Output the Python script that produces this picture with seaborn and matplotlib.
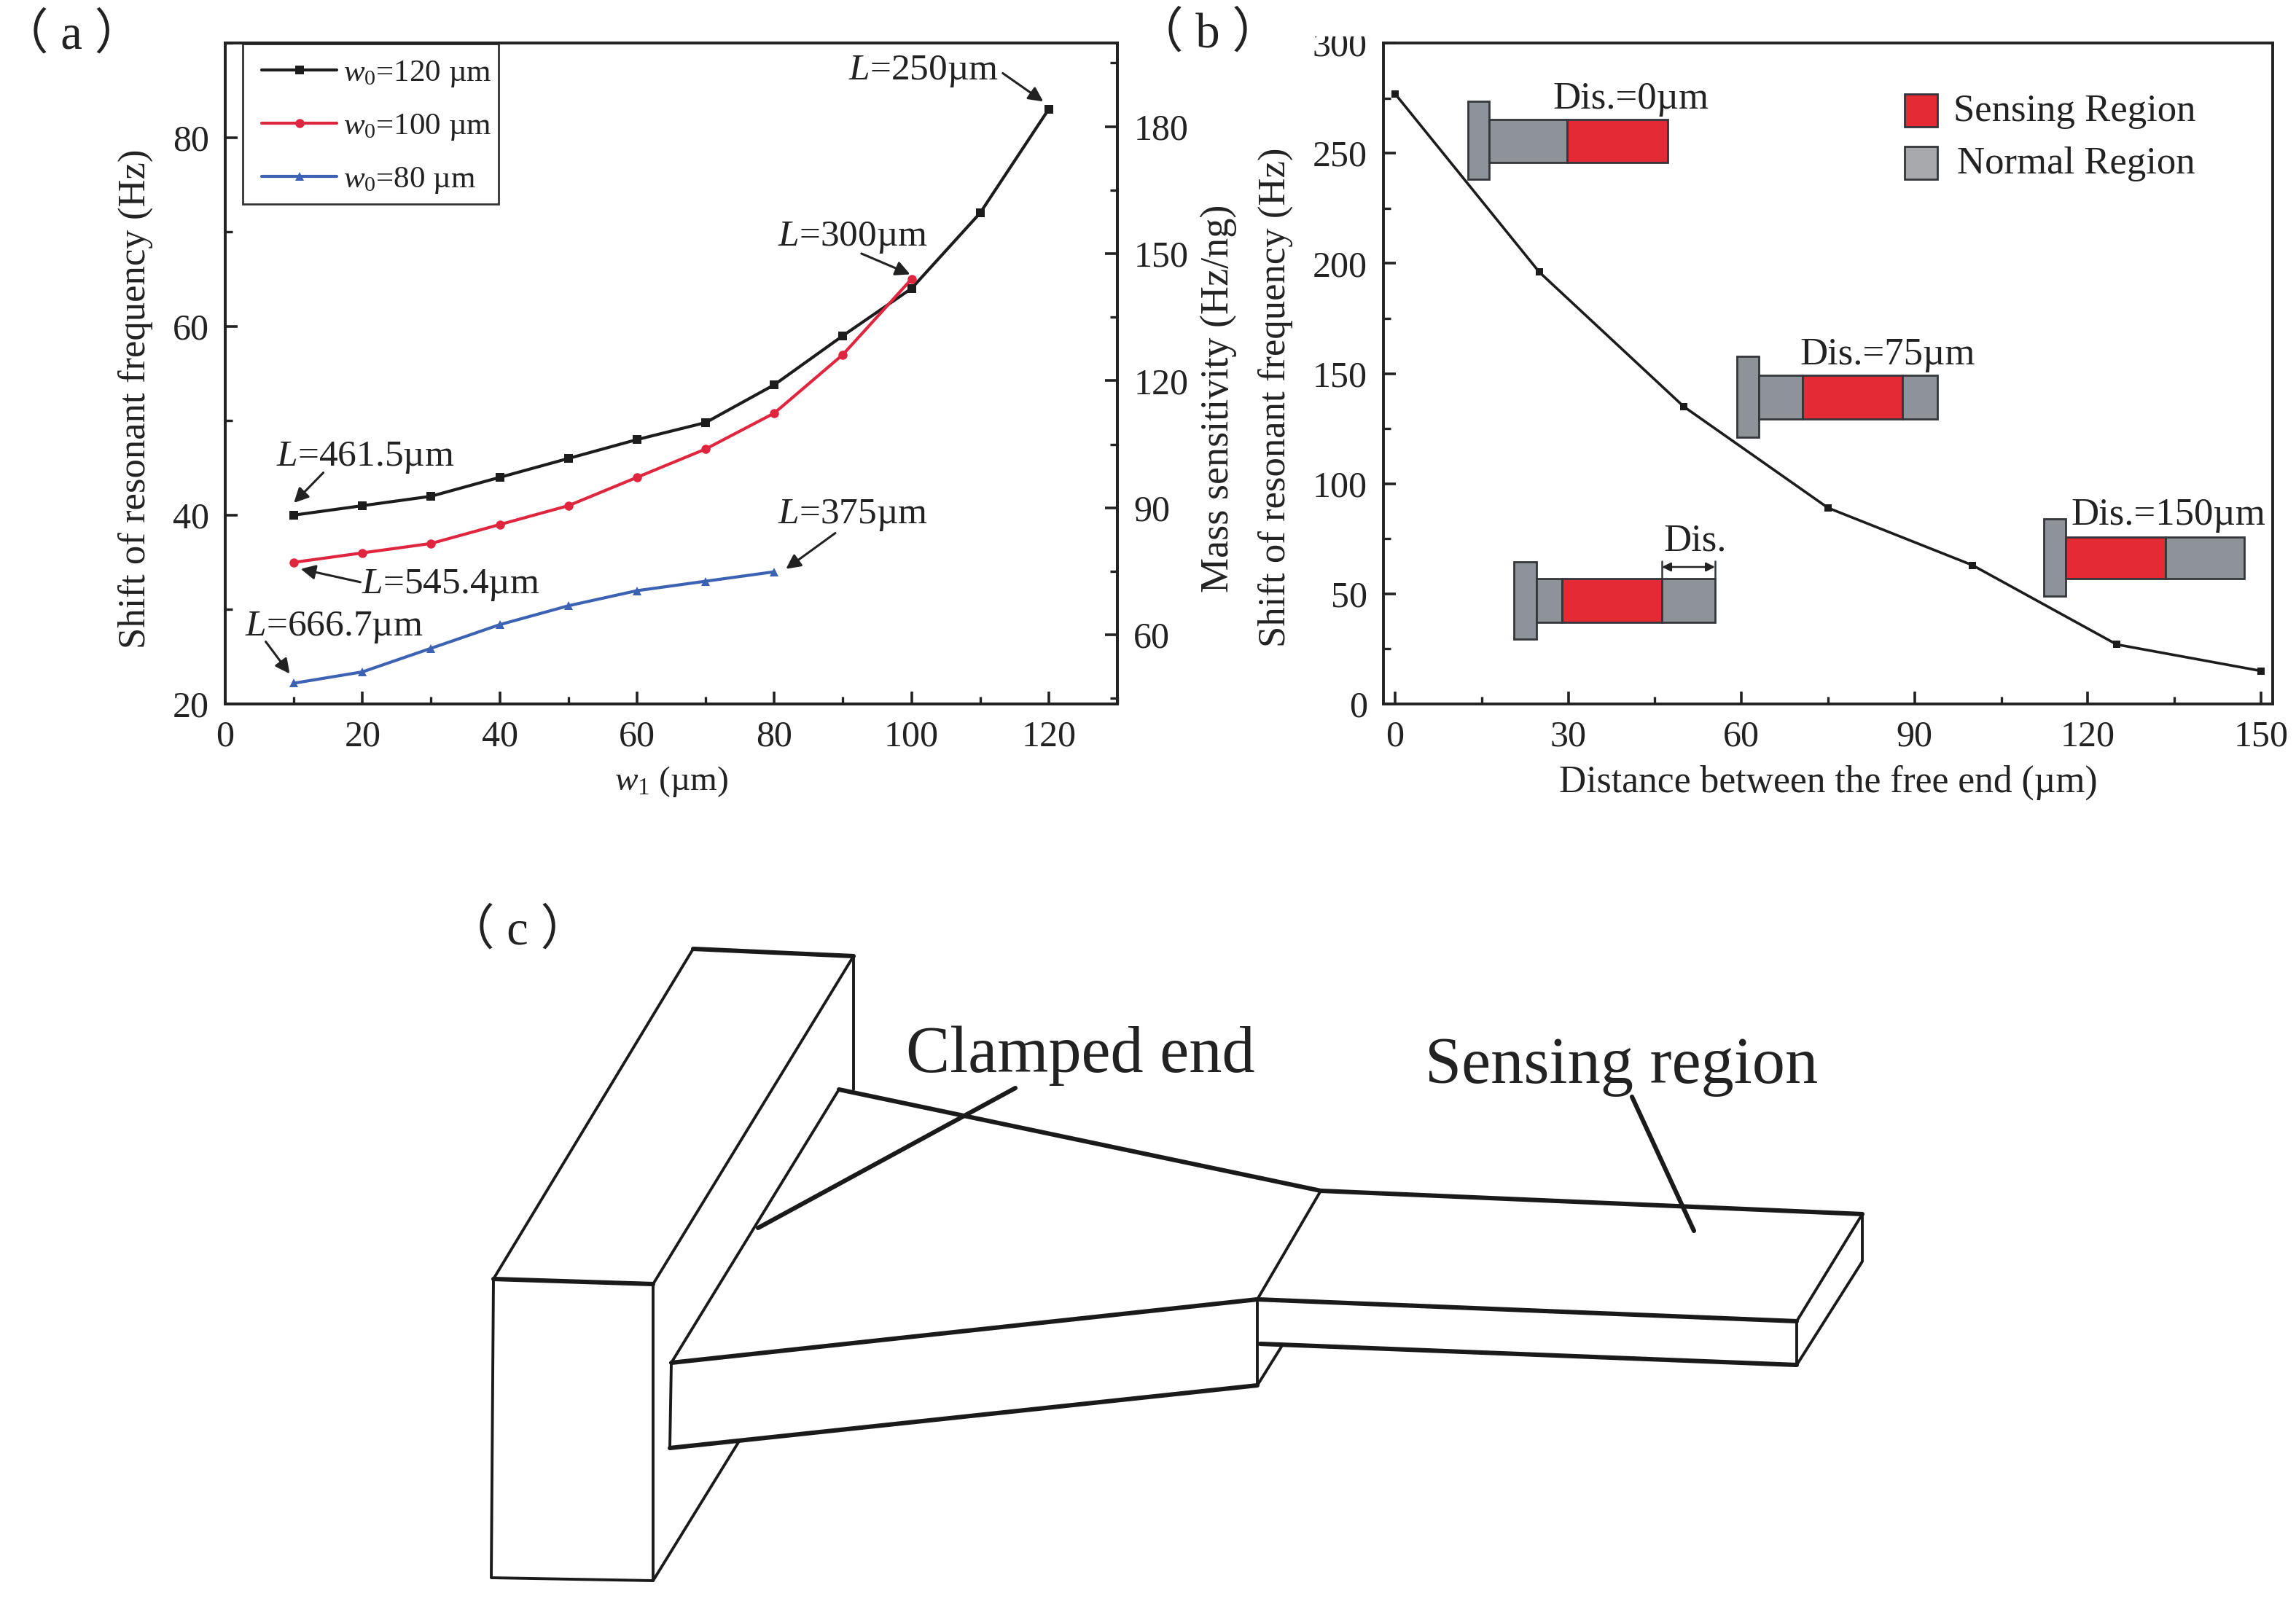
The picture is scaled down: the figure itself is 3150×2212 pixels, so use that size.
import matplotlib
matplotlib.use("Agg")
import matplotlib.pyplot as plt
import numpy as np
import pandas as pd
import seaborn as sns
from matplotlib.patches import Rectangle
from matplotlib.ticker import MultipleLocator
from matplotlib.transforms import Bbox

# --- panel (a) values
w1_values = [10, 20, 30, 40, 50, 60, 70, 80, 90, 100, 110, 120]
shift_w0_120 = [40, 41, 42, 44, 46, 48, 49.8, 53.8, 59, 64, 72, 83]
shift_w0_100 = [35, 36, 37, 39, 41, 44, 47, 50.8, 57, 65]
shift_w0_80 = [22.2, 23.4, 25.9, 28.4, 30.4, 32, 33, 34]
legend_labels = ["$w_0$=120 µm", "$w_0$=100 µm", "$w_0$=80 µm"]
line_colors = ["#1c1c1c", "#e0263f", "#3c62b4"]
line_markers = ["s", "o", "^"]
marker_sizes = [4, 4.5, 4.5]

# --- panel (b) values
distance_values = [0, 25, 50, 75, 100, 125, 150]
shift_distance = [277, 196, 135, 89, 63, 27, 15]

FIG_W, FIG_H = 3150, 2212
GREY = "#8e9299"
RED = "#e32a35"
EDGE = "#33363b"

sns.set_theme(style="ticks")
plt.rcParams["font.family"] = ["Liberation Serif", "Noto Sans CJK SC"]
plt.rcParams["mathtext.fontset"] = "custom"
plt.rcParams["mathtext.rm"] = "Liberation Serif"
plt.rcParams["mathtext.it"] = "Liberation Serif:italic"
plt.rcParams["mathtext.bf"] = "Liberation Serif:bold"
plt.rcParams["text.color"] = "#222222"
plt.rcParams["axes.labelcolor"] = "#222222"
plt.rcParams["xtick.color"] = "#222222"
plt.rcParams["ytick.color"] = "#222222"

fig = plt.figure(figsize=(FIG_W / 200, FIG_H / 200), dpi=200, facecolor="white")


def px_axes(left, top, right, bottom, **kw):
    return fig.add_axes([left / FIG_W, 1 - bottom / FIG_H,
                         (right - left) / FIG_W, (bottom - top) / FIG_H], **kw)


def style_axis(ax):
    for s in ax.spines.values():
        s.set_linewidth(1.4)
        s.set_color("#222222")
    ax.tick_params(which="major", direction="in", length=6, width=1.3, labelsize=18, pad=8)
    ax.tick_params(which="minor", direction="in", length=3.5, width=1.2)


# --- (a)
ax_a = px_axes(309, 59, 1533, 966)
for vals, lab, col, mk, ms in zip([shift_w0_120, shift_w0_100, shift_w0_80], legend_labels,
                                  line_colors, line_markers, marker_sizes):
    df = pd.DataFrame({"w1": w1_values[:len(vals)], "shift": vals})
    sns.lineplot(data=df, x="w1", y="shift", ax=ax_a, color=col, marker=mk, markersize=ms,
                 markeredgewidth=0, linewidth=1.5, label=lab, errorbar=None)
ax_a.set_xlim(0, 130)
ax_a.set_ylim(20, 90)
ax_a.set_xticks(np.arange(0, 121, 20))
ax_a.set_yticks(np.arange(20, 81, 20))
ax_a.xaxis.set_minor_locator(MultipleLocator(10))
ax_a.yaxis.set_minor_locator(MultipleLocator(10))
style_axis(ax_a)
ax_a.set_xlabel("$w_1$ (µm)", fontsize=17)
ax_a.xaxis.set_label_coords(0.50, -0.092)
ax_a.set_ylabel("Shift of resonant frequency (Hz)", fontsize=19)
ax_a.yaxis.set_label_coords(-0.081, 0.462)
ax_a.add_patch(Rectangle((0.0196, 0.756), 0.287, 0.243, transform=ax_a.transAxes, facecolor="white",
                         edgecolor="#333333", linewidth=1.0, zorder=4))
leg = ax_a.legend(loc="upper left", bbox_to_anchor=(0.0286, 0.992), borderaxespad=0, fontsize=15.5,
                  frameon=False, handlelength=2.4, labelspacing=0.74, handletextpad=0.2, borderpad=0.35)

ax_r = ax_a.twinx()
ax_r.set_ylim(43.7, 199.7)
ax_r.set_yticks(np.arange(60, 181, 30))
ax_r.yaxis.set_minor_locator(MultipleLocator(15))
style_axis(ax_r)
ax_r.set_ylabel("Mass sensitivity (Hz/ng)", fontsize=19.5)
ax_r.yaxis.set_label_coords(1.093, 0.462)

notes_a = [
    ("$L$=250µm", 101.7, 87.0, 113.3, 86.8, 119.2, 83.8),
    ("$L$=300µm", 91.5, 69.4, 92.7, 67.7, 99.8, 65.5),
    ("$L$=461.5µm", 20.4, 46.1, 14.3, 44.5, 10, 41.3),
    ("$L$=545.4µm", 32.8, 32.6, 19.7, 32.9, 11, 34.3),
    ("$L$=666.7µm", 15.9, 28.1, 5.9, 26.6, 9.4, 23.2),
    ("$L$=375µm", 91.5, 40.0, 88.9, 38.1, 81.7, 34.3),
]
for txt, tx, ty, x0, y0, x1, y1 in notes_a:
    ax_r.text(tx, ty, txt, fontsize=18.5, ha="center", va="center", transform=ax_a.transData)
    ax_r.annotate("", xy=(x1, y1), xytext=(x0, y0), xycoords=ax_a.transData, textcoords=ax_a.transData,
                  arrowprops=dict(arrowstyle="-|>", color="#222222", lw=1.1, mutation_scale=15,
                                  shrinkA=0, shrinkB=0))

# --- (b)
ax_b = px_axes(1898, 59, 3118, 966)
sns.lineplot(x=distance_values, y=shift_distance, ax=ax_b, color="#1c1c1c", marker="s", markersize=3.5,
             markeredgewidth=0, linewidth=1.3, errorbar=None)
ax_b.set_xlim(-2, 152)
ax_b.set_ylim(0, 300)
ax_b.set_xticks(np.arange(0, 151, 30))
ax_b.set_yticks(np.arange(0, 301, 50))
ax_b.xaxis.set_minor_locator(MultipleLocator(15))
ax_b.yaxis.set_minor_locator(MultipleLocator(25))
style_axis(ax_b)
ax_b.set_xlabel("Distance between the free end (µm)", fontsize=18.6)
ax_b.xaxis.set_label_coords(0.50, -0.092)
ax_b.set_ylabel("Shift of resonant frequency (Hz)", fontsize=19)
ax_b.yaxis.set_label_coords(-0.102, 0.464)
# top tick label is cut off at the frame edge in the original
for lab in ax_b.get_yticklabels():
    if lab.get_text() == "300":
        lab.set_clip_box(Bbox([[0, 0], [1, 1 - 50 / FIG_H]]).transformed(fig.transFigure))
        lab.set_clip_on(True)

# --- pixel overlay for the schematics and panel marks
ov = fig.add_axes([0, 0, 1, 1], facecolor="none")
ov.set_xlim(0, FIG_W)
ov.set_ylim(FIG_H, 0)
ov.axis("off")


def box(x0, x1, y0, y1, col):
    ov.add_patch(Rectangle((x0, y0), x1 - x0, y1 - y0, facecolor=col, edgecolor=EDGE, linewidth=1.0))


# clamp, body top/bottom, then grey/red segments along the body
insets_b = [
    ((2014, 2043, 139, 246), (164, 223), [(2043, 2150, GREY), (2150, 2288, RED)]),
    ((2383, 2413, 489, 600), (515, 575), [(2413, 2473, GREY), (2473, 2610, RED), (2610, 2658, GREY)]),
    ((2077, 2108, 771, 877), (794, 854), [(2108, 2143, GREY), (2143, 2280, RED), (2280, 2353, GREY)]),
    ((2804, 2834, 712, 818), (737, 794), [(2834, 2971, RED), (2971, 3079, GREY)]),
]
for clamp, (by0, by1), segs in insets_b:
    box(clamp[0], clamp[1], clamp[2], clamp[3], GREY)
    for x0, x1, col in segs:
        box(x0, x1, by0, by1, col)

for txt, x, y in [("Dis.=0µm", 2237, 136), ("Dis.=75µm", 2590, 487), ("Dis.", 2326, 743), ("Dis.=150µm", 2975, 707)]:
    ov.text(x, y, txt, fontsize=19, ha="center", va="center")
ov.annotate("", xy=(2280, 778), xytext=(2353, 778),
            arrowprops=dict(arrowstyle="<|-|>", color="#222222", lw=0.9, mutation_scale=9, shrinkA=0, shrinkB=0))
ov.plot([2280, 2280], [770, 794], color=EDGE, lw=0.9)
ov.plot([2353, 2353], [770, 794], color=EDGE, lw=0.9)

box(2613, 2658, 129, 174, RED)
box(2613, 2658, 201, 246, "#a7a9ad")
ov.text(3012, 153, "Sensing Region", fontsize=19, ha="right", va="center")
ov.text(3012, 225, "Normal Region", fontsize=19, ha="right", va="center")

# --- (c) line drawing
thin = [
    [(677, 1755), (951, 1302)],
    [(951, 1302), (1171, 1312), (896, 1762)],
    [(1171, 1312), (1171, 1495)],
    [(677, 1755), (674, 2165), (896, 2169), (896, 1762)],
    [(1015, 1976), (896, 2169)],
    [(1151, 1495), (921, 1870)],
    [(921, 1870), (919, 1987)],
    [(1812, 1634), (1725, 1783), (1725, 1901)],
    [(1758, 1848), (1725, 1901)],
    [(2555, 1666), (2465, 1813), (2465, 1873)],
    [(2555, 1666), (2555, 1731), (2465, 1873)],
]
thick = [
    [(677, 1755), (896, 1762)],
    [(951, 1302), (1171, 1312)],
    [(1151, 1495), (1812, 1634), (2555, 1666)],
    [(921, 1870), (1725, 1783), (2465, 1813)],
    [(919, 1987), (1725, 1901)],
    [(1729, 1844), (2465, 1873)],
    [(1393, 1493), (1040, 1685)],
    [(2239, 1505), (2324, 1689)],
]
for seg in thin:
    ov.plot(*zip(*seg), color="#1a1a1a", lw=1.4, solid_capstyle="round")
for seg in thick:
    ov.plot(*zip(*seg), color="#1a1a1a", lw=2.2, solid_capstyle="round")
ov.set_xlim(0, FIG_W)
ov.set_ylim(FIG_H, 0)
ov.text(1482, 1449, "Clamped end", fontsize=32.5, ha="center", va="center")
ov.text(2225, 1464, "Sensing region", fontsize=32.5, ha="center", va="center")

for txt, x, y in [("（ a ）", 98, 49), ("（ b ）", 1657, 47), ("（ c ）", 710, 1278)]:
    ov.text(x, y, txt, fontsize=24, ha="center", va="center")

fig.savefig("out.png", dpi=200, facecolor="white")
